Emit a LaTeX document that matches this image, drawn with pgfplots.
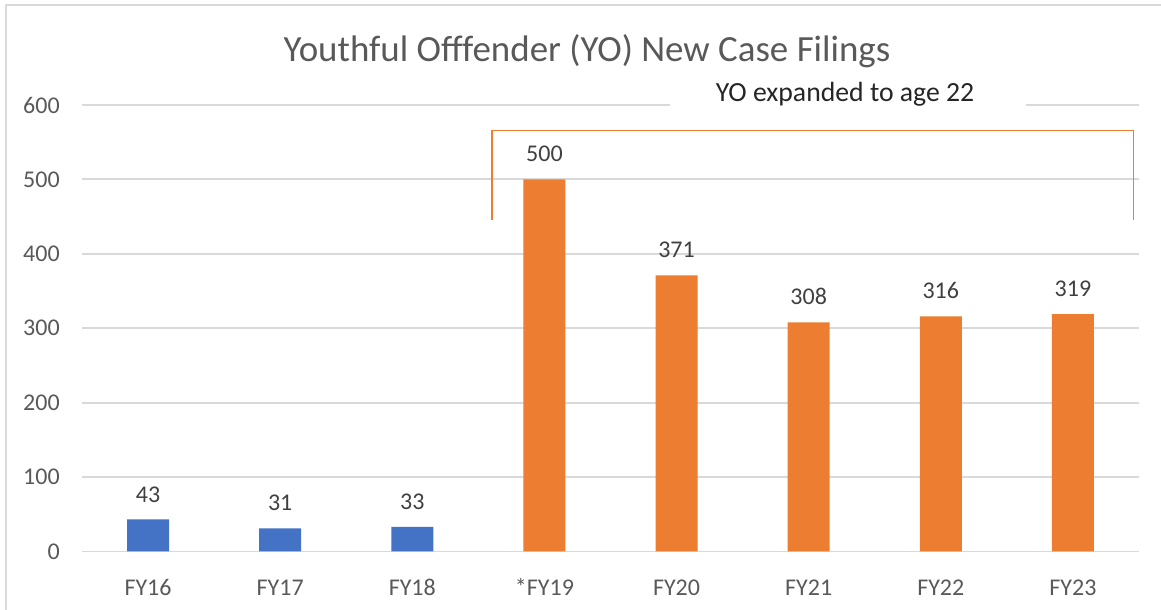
\documentclass[border=0pt]{standalone}
\usepackage{fontspec}
\setmainfont{Carlito}
\usepackage{pgfplots}
\usepackage{pgfplotstable}
\pgfplotsset{compat=1.18}
\definecolor{barblue}{HTML}{4472C4}
\definecolor{barorange}{HTML}{ED7D31}
\definecolor{gridgray}{HTML}{D9D9D9}
\definecolor{ticktext}{HTML}{595959}
\definecolor{valtext}{HTML}{404040}
\pgfplotstableread{
x y
0 43
1 31
2 33
}\before
\pgfplotstableread{
x y
3 500
4 371
5 308
6 316
7 319
}\after
\begin{document}
\begin{tikzpicture}
\path[use as bounding box] (0,0) rectangle (870.75pt,457.5pt);
\draw[gridgray, line width=1.5pt] (4.5pt,0) -- (4.5pt,453.75pt) -- (870.75pt,453.75pt);
\node[anchor=base, text=ticktext, inner sep=0pt, font=\fontsize{27.7pt}{32pt}\selectfont] at (440.25pt,411pt) {Youthful Offfender (YO) New Case Filings};
\begin{axis}[
  at={(61.5pt,43.875pt)}, anchor=south west,
  scale only axis, width=792.75pt, height=334.875pt,
  xmin=-0.5, xmax=7.5, ymin=0, ymax=600,
  ytick={0,100,...,600},
  xtick={0,...,7},
  xticklabels={FY16,FY17,FY18,*FY19,FY20,FY21,FY22,FY23},
  axis line style={draw=none},
  tick style={draw=none},
  ymajorgrids, grid style={gridgray, line width=1.4pt},
  /pgf/number format/assume math mode=true,
  ticklabel style={text=ticktext, font=\fontsize{18pt}{21pt}\selectfont, inner sep=0pt},
  yticklabel style={anchor=east, xshift=-16.5pt},
  xticklabel style={anchor=base, yshift=-28.7pt},
  ybar, bar width=31.5pt,
  clip=false,
  nodes near coords,
  every node near coord/.append style={anchor=south, inner sep=0pt, yshift=12.75pt, text=valtext, font=\fontsize{18pt}{21pt}\selectfont},
]
\addplot[fill=barblue, draw=none, bar shift=0pt] table[x=x,y=y] {\before};
\addplot[fill=barorange, draw=none, bar shift=0pt] table[x=x,y=y] {\after};
\fill[white] (axis cs:3.95,573.4) rectangle (axis cs:6.645,633.9);
\node[anchor=base, inner sep=0pt, text=black!85, font=\fontsize{20.8pt}{24pt}\selectfont] at (axis cs:5.275,604.4) {YO expanded to age 22};
\draw[barorange, line width=0.8pt] (axis cs:2.603,445.8) -- (axis cs:2.603,565.9) -- (axis cs:7.455,565.9) -- (axis cs:7.455,445.8);
\end{axis}
\end{tikzpicture}
\end{document}
